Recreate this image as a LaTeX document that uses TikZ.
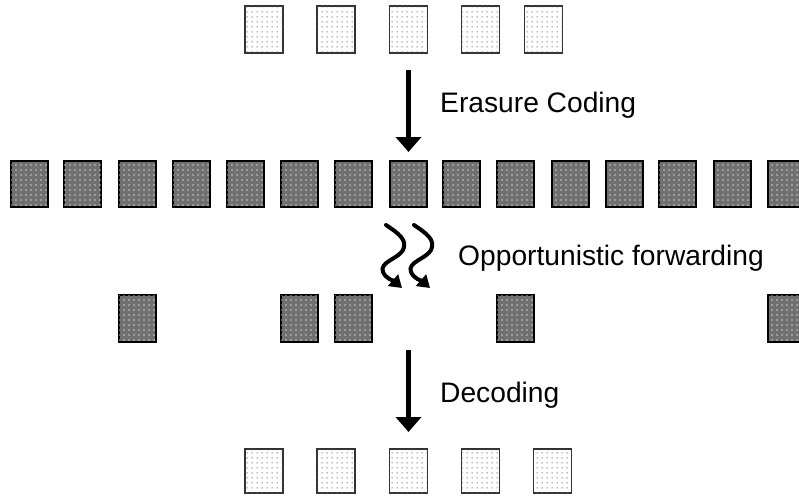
\documentclass[tikz,border=0pt]{standalone}
\usepackage{fontspec}
\setmainfont{Liberation Sans}
\usetikzlibrary{arrows.meta,patterns}
\pgfdeclarepatternformonly{litedots}{\pgfqpoint{0pt}{0pt}}{\pgfqpoint{5pt}{5pt}}{\pgfqpoint{5pt}{5pt}}%
  {\pgfpathrectangle{\pgfqpoint{1.9pt}{1.9pt}}{\pgfqpoint{1.2pt}{1.2pt}}\pgfusepath{fill}}
\pgfdeclarepatternformonly{darkdots}{\pgfqpoint{0pt}{0pt}}{\pgfqpoint{4.5pt}{4.5pt}}{\pgfqpoint{4.5pt}{4.5pt}}%
  {\pgfpathrectangle{\pgfqpoint{1.6pt}{1.6pt}}{\pgfqpoint{1.3pt}{1.3pt}}\pgfusepath{fill}}
\tikzset{
  litebox/.style={draw=black!80, line width=1.6pt, fill=white, minimum width=37pt, minimum height=46pt, inner sep=0pt,
    postaction={pattern=litedots, pattern color=black!60}},
  darkbox/.style={draw=black, line width=1.4pt, fill=black!56, minimum width=37pt, minimum height=46pt, inner sep=0pt,
    postaction={pattern=darkdots, pattern color=white!85!black}},
  bigarrow/.style={line width=5.5pt, -{Triangle[width=25pt,length=15pt]}},
  wavearrow/.style={line width=4pt, line cap=round, -{Triangle[width=15pt,length=12pt]}},
  lbl/.style={anchor=base west, inner sep=0pt, font=\fontsize{28.2}{34}\selectfont}
}
\begin{document}
\begin{tikzpicture}[x=1pt,y=-1pt]
\useasboundingbox (0,0) rectangle (799,499);
\clip (0,0) rectangle (799,499);
% top row
\foreach \n/\x in {1/264,2/336,3/408.5,4/480.5,5/543.5}
  \node[litebox, minimum width=38pt, minimum height=47pt] (t\n) at (\x,29.5) {};
% middle row
\foreach \n/\x in {1/29.5,2/82.5,3/137.5,4/191.5,5/245.5,6/299.5,7/353.5,8/408.5,9/461.5,10/515.5,11/570.5,12/624.5,13/677.5,14/732.5,15/786.5}
  \node[darkbox] (m\n) at (\x,184) {};
% received row
\foreach \n/\x in {3/137.5,6/299.5,7/353.5,10/515.5,15/786.5}
  \node[darkbox, minimum height=47pt] (r\n) at (\x,318.5) {};
% bottom row
\foreach \n/\x in {1/264,2/336,3/408.5,4/480.5,5/552.5}
  \node[litebox, minimum width=38pt, minimum height=44pt] (b\n) at (\x,471) {};
% arrows
\coordinate (e1) at (408.5,70);
\coordinate (e2) at (408.5,152);
\draw[bigarrow] (e1) -- (e2);
\node[lbl] (lerasure) at (440,112) {Erasure Coding};
\coordinate (w1s) at (386,225);
\coordinate (w1e) at (402,288);
\coordinate (w2s) at (414,225);
\coordinate (w2e) at (430,288);
\draw[wavearrow] (w1s) .. controls (398,233) and (408,240) .. (403,250)
  .. controls (398,259) and (379,262) .. (383,272)
  .. controls (386,279) and (394,281) .. (w1e);
\draw[wavearrow] (w2s) .. controls (426,233) and (436,240) .. (431,250)
  .. controls (426,259) and (407,262) .. (411,272)
  .. controls (414,279) and (422,281) .. (w2e);
\node[lbl] (lforward) at (458,265) {Opportunistic forwarding};
\coordinate (d1) at (408.5,350);
\coordinate (d2) at (408.5,432);
\draw[bigarrow] (d1) -- (d2);
\node[lbl] (ldecode) at (440,402) {Decoding};
\end{tikzpicture}
\end{document}
